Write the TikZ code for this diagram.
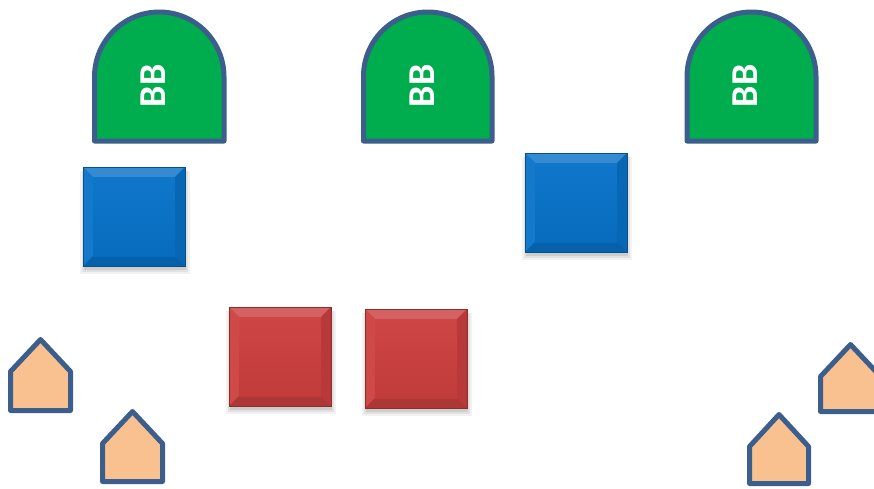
\documentclass[tikz,border=0pt]{standalone}
\usepackage{fontspec}
\setmainfont{Carlito}
\begin{document}
\begin{tikzpicture}[x=1pt,y=-1pt,
  edge/.style={draw=edgeblue,line width=5pt,line join=round},
  bbshape/.style={edge,fill=bbgreen},
  house/.style={edge,fill=peach},
  bbtext/.style={text=white,font=\fontsize{38}{38}\selectfont\bfseries,rotate=90,inner sep=0pt}
]
\definecolor{edgeblue}{HTML}{3B5E8C}
\definecolor{bbgreen}{HTML}{00AD4E}
\definecolor{peach}{HTML}{F9C090}
\definecolor{sqblue}{HTML}{0872C8}
\definecolor{sqred}{HTML}{CC3F3F}
\useasboundingbox (0,0) rectangle (874,488);
\clip (0,0) rectangle (874,488);

% BB shapes
\newcommand\bbarch[3]{% left x, right x, name
  \pgfmathsetmacro\rr{(#2-#1)/2}
  \draw[bbshape] (#1,141) -- (#1,12+\rr) arc[start angle=180,end angle=0,x radius=\rr,y radius=-\rr] -- (#2,141) -- cycle;
  \node[bbtext] (#3) at ({(#1+#2)/2-6},86) {BB};
}
\bbarch{94.5}{224}{bb1}
\bbarch{363.5}{492}{bb2}
\bbarch{687}{816}{bb3}

% beveled squares
\newcommand\bevelbox[5]{% x1,y1,x2,y2,color
  \foreach \s/\o in {6/0.05,4/0.07,2/0.09}{
    \fill[black,opacity=\o] (#1-\s+3,#2+4) rectangle (#3+\s-1,#4+\s+2);
  }
  \fill[#5] (#1,#2) rectangle (#3,#4);
  \fill[#5!82!white] (#1,#2) -- (#3,#2) -- (#3-10,#2+10) -- (#1+10,#2+10) -- cycle;
  \fill[#5!95!white] (#1,#2) -- (#1+10,#2+10) -- (#1+10,#4-10) -- (#1,#4) -- cycle;
  \fill[#5!90!black] (#3,#2) -- (#3,#4) -- (#3-10,#4-10) -- (#3-10,#2+10) -- cycle;
  \fill[#5!85!black] (#1,#4) -- (#3,#4) -- (#3-10,#4-10) -- (#1+10,#4-10) -- cycle;
  \shade[top color=#5!97!white,bottom color=#5!95!black] (#1+10,#2+10) rectangle (#3-10,#4-10);
  \draw[#5!70!black,line width=0.8pt] (#1,#2) rectangle (#3,#4);
}
\bevelbox{83}{167}{185}{266}{sqblue}
\bevelbox{525}{153}{627}{252}{sqblue}
\bevelbox{229}{307}{331}{406}{sqred}
\bevelbox{365}{309}{467}{408}{sqred}

% houses
\newcommand\house[4]{% left x, top y, width, height
  \draw[house] (#1,#2+#4) -- (#1,#2+32) -- (#1+#3/2,#2) -- (#1+#3,#2+32) -- (#1+#3,#2+#4) -- cycle;
}
\house{10.5}{339.5}{60}{71}
\house{102.5}{411.5}{60}{70}
\house{820.5}{344.5}{60}{67}
\house{749.5}{414.5}{59}{69}
\end{tikzpicture}
\end{document}
